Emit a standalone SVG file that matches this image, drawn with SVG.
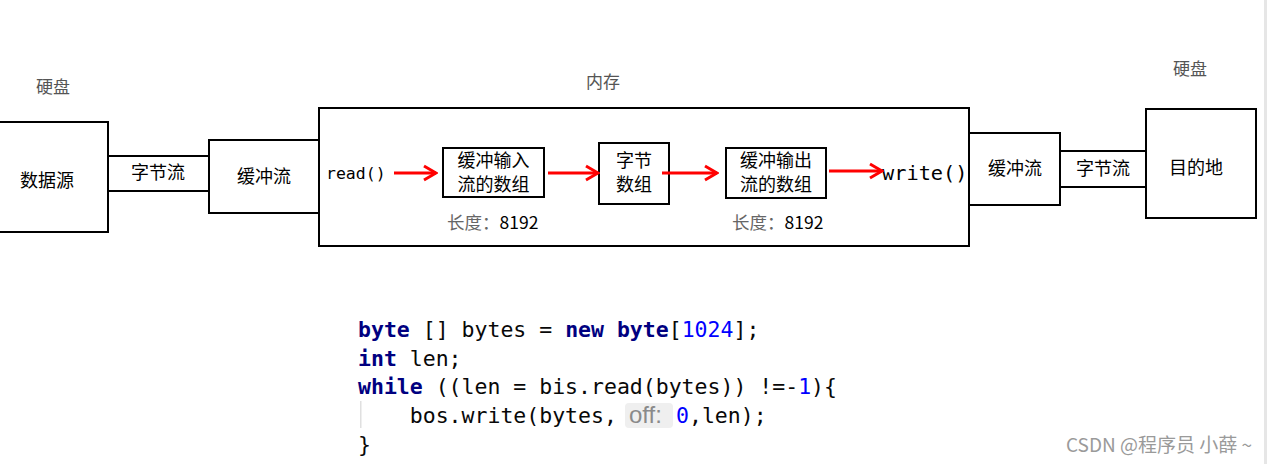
<svg xmlns="http://www.w3.org/2000/svg" width="1267" height="464" viewBox="0 0 1267 464">
  <style>
    .box { fill: #fff; stroke: #000; stroke-width: 2; }
    .cn { font-family: "Noto Sans CJK SC", "Liberation Sans", sans-serif; font-size: 18px; fill: #000; text-anchor: middle; }
    .cap { font-family: "Noto Sans CJK SC", "Liberation Serif", serif; font-size: 17px; fill: #555; text-anchor: middle; }
    .len { font-family: "Noto Sans CJK SC", "Liberation Sans", sans-serif; font-size: 17.5px; fill: #000; }
    .len .lbl { fill: #666; }
    .mono { font-family: "DejaVu Sans Mono", "Liberation Mono", monospace; fill: #000; }
    .code { font-family: "DejaVu Sans Mono", "Liberation Mono", monospace; font-size: 21.5px; fill: #080808; white-space: pre; }
    .kw { fill: #000080; font-weight: bold; }
    .num { fill: #0000ff; }
    .hint { font-family: "Liberation Sans", "Noto Sans", sans-serif; font-size: 24px; fill: #8a8a8a; }
    .flow { stroke: #ff0000; stroke-width: 3; fill: none; marker-end: url(#head); }
  </style>
  <defs>
    <marker id="head" markerUnits="userSpaceOnUse" markerWidth="16" markerHeight="18" viewBox="0 0 16 18" refX="14" refY="9" orient="auto">
      <path d="M2,2 L14,9 L2,16" fill="none" stroke="#ff0000" stroke-width="3"/>
    </marker>
  </defs>

  <rect x="0" y="0" width="1267" height="464" fill="#fff"/>
  <!-- page edge on the right -->
  <rect x="1264" y="0" width="3" height="464" fill="#e6e6e6"/>

  <!-- storage / memory captions -->
  <text class="cap" x="53" y="93">硬盘</text>
  <text class="cap" x="603" y="88">内存</text>
  <text class="cap" x="1190" y="75">硬盘</text>

  <!-- source side -->
  <g id="source">
    <rect class="box" x="-2" y="122" width="110" height="110"/>
    <text class="cn" x="47" y="187">数据源</text>
  </g>
  <g id="byte-stream-in">
    <rect class="box" x="108" y="156" width="101" height="35"/>
    <text class="cn" x="158" y="179">字节流</text>
  </g>
  <g id="buffered-in">
    <rect class="box" x="209" y="140" width="110" height="73"/>
    <text class="cn" x="264" y="183">缓冲流</text>
  </g>

  <!-- memory -->
  <g id="memory">
    <rect class="box" x="319" y="108" width="650" height="138"/>
    <text class="mono" x="326" y="179" font-size="16.5">read()</text>
    <text class="mono" x="882" y="180" font-size="20.3">write()</text>
  </g>
  <g id="in-buffer">
    <rect class="box" x="443" y="148" width="101" height="49"/>
    <text class="cn" x="493.5" y="167">缓冲输入</text>
    <text class="cn" x="493.5" y="191">流的数组</text>
    <text class="len" x="447" y="229"><tspan class="lbl">长度：</tspan>8192</text>
  </g>
  <g id="byte-array">
    <rect class="box" x="599" y="143" width="70" height="61"/>
    <text class="cn" x="634" y="167">字节</text>
    <text class="cn" x="634" y="191">数组</text>
  </g>
  <g id="out-buffer">
    <rect class="box" x="726" y="148" width="100" height="50"/>
    <text class="cn" x="776" y="167">缓冲输出</text>
    <text class="cn" x="776" y="191">流的数组</text>
    <text class="len" x="732" y="229"><tspan class="lbl">长度：</tspan>8192</text>
  </g>

  <!-- destination side -->
  <g id="buffered-out">
    <rect class="box" x="969" y="133" width="91" height="72"/>
    <text class="cn" x="1015" y="175">缓冲流</text>
  </g>
  <g id="byte-stream-out">
    <rect class="box" x="1060" y="151" width="86" height="36"/>
    <text class="cn" x="1103" y="175">字节流</text>
  </g>
  <g id="destination">
    <rect class="box" x="1146" y="109" width="110" height="109"/>
    <text class="cn" x="1196" y="174">目的地</text>
  </g>

  <!-- data flow arrows -->
  <g id="connectors">
    <line class="flow" x1="394" y1="173" x2="436" y2="173"/>
    <line class="flow" x1="548" y1="173" x2="598" y2="173"/>
    <line class="flow" x1="662" y1="173" x2="717" y2="173"/>
    <line class="flow" x1="829" y1="171" x2="882" y2="171"/>
  </g>

  <!-- copy loop -->
  <g id="code">
    <rect x="360" y="401" width="1.5" height="27" fill="#e0e0e0"/>
    <text class="code" x="358" y="337"><tspan class="kw">byte</tspan> [] bytes = <tspan class="kw">new</tspan> <tspan class="kw">byte</tspan>[<tspan class="num">1024</tspan>];</text>
    <text class="code" x="358" y="366"><tspan class="kw">int</tspan> len;</text>
    <text class="code" x="358" y="394"><tspan class="kw">while</tspan> ((len = bis.read(bytes)) !=-<tspan class="num">1</tspan>){</text>
    <text class="code" x="358" y="423">    bos.write(bytes,</text>
    <rect x="625" y="403" width="48" height="25" rx="4" fill="#efefef"/>
    <text class="hint" x="629" y="423">off:</text>
    <text class="code" x="676" y="423"><tspan class="num">0</tspan>,len);</text>
    <text class="code" x="358" y="452">}</text>
  </g>

  <text x="1252" y="452" text-anchor="end" font-family="Noto Sans CJK SC, Liberation Sans, sans-serif" font-size="19" fill="#9a9a9a">CSDN @程序员 小薛 ~</text>
</svg>
